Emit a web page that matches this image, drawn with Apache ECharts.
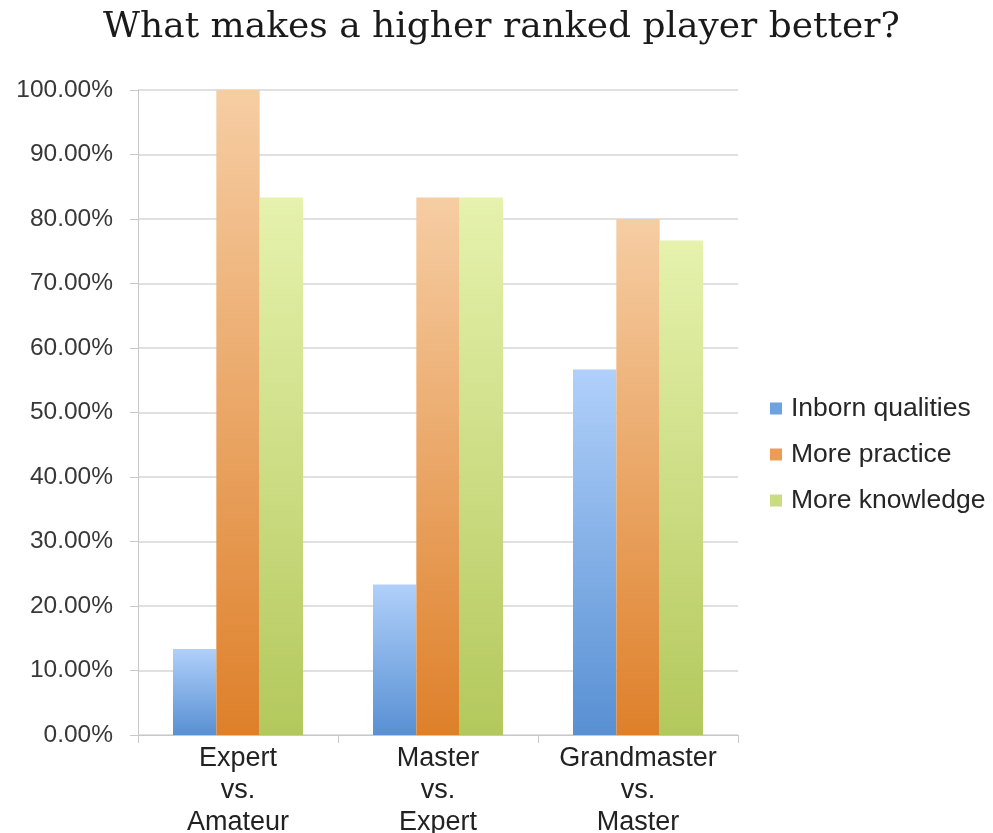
<!DOCTYPE html>
<html>
<head>
<meta charset="utf-8">
<script src="https://cdn.jsdelivr.net/npm/echarts@6/dist/echarts.min.js"></script>
<style>
  html, body { margin: 0; padding: 0; background: #fff; }
  #chart { width: 993px; height: 833px; }
</style>
</head>
<body>
<div id="chart"></div>
<script>
// Survey results: what separates a stronger chess player from a weaker one
const categories = ['Expert\nvs.\nAmateur', 'Master\nvs.\nExpert', 'Grandmaster\nvs.\nMaster'];
const inbornQualities = [13.33, 23.33, 56.67];
const morePractice = [100, 83.33, 80];
const moreKnowledge = [83.33, 83.33, 76.67];
const seriesNames = ['Inborn qualities', 'More practice', 'More knowledge'];

// top / bottom gradient stops and flat legend swatch per series
const palette = [
  { top: '#b0d0fa', bottom: '#5890d3', swatch: '#6ea3e2' },
  { top: '#f6cda3', bottom: '#de802a', swatch: '#eb9c55' },
  { top: '#e6f2ad', bottom: '#b3c85c', swatch: '#c9dc80' }
];

function barSeries(name, data, p) {
  return {
    name: name,
    type: 'bar',
    data: data,
    barGap: '0%',
    barCategoryGap: '35%',
    itemStyle: {
      color: new echarts.graphic.LinearGradient(0, 0, 0, 1, [
        { offset: 0, color: p.top },
        { offset: 1, color: p.bottom }
      ])
    }
  };
}

const chart = echarts.init(document.getElementById('chart'), null, { renderer: 'canvas' });
chart.setOption({
  animation: false,
  backgroundColor: '#ffffff',
  title: {
    text: 'What makes a higher ranked player better?',
    left: 98,
    top: 5,
    textStyle: {
      fontFamily: 'DejaVu Serif',
      fontWeight: 'normal',
      fontSize: 36,
      color: '#1a1a1a'
    }
  },
  legend: {
    orient: 'vertical',
    left: 765,
    top: 390,
    itemWidth: 12,
    itemHeight: 12,
    itemGap: 19,
    icon: 'rect',
    textStyle: {
      fontFamily: 'Liberation Sans',
      fontSize: 26.5,
      lineHeight: 26,
      color: '#262626',
      padding: [0, 0, 0, 4]
    },
    data: seriesNames.map((n, i) => ({ name: n, itemStyle: { color: palette[i].swatch } }))
  },
  grid: { left: 138, right: 255, top: 90, bottom: 98, containLabel: false, outerBoundsMode: 'none' },
  xAxis: {
    type: 'category',
    data: categories,
    axisLine: { lineStyle: { color: '#c8c8c8', width: 1 } },
    axisTick: { show: true, length: 8, lineStyle: { color: '#c8c8c8' } },
    axisLabel: {
      interval: 0,
      hideOverlap: false,
      fontFamily: 'Liberation Sans',
      fontSize: 27,
      lineHeight: 32,
      color: '#222',
      margin: 8
    }
  },
  yAxis: {
    type: 'value',
    min: 0,
    max: 100,
    interval: 10,
    axisLine: { show: true, lineStyle: { color: '#c8c8c8', width: 1 } },
    axisTick: { show: true, length: 8, lineStyle: { color: '#c8c8c8' } },
    splitLine: { lineStyle: { color: '#d6d6d6', width: 1.5 } },
    axisLabel: {
      fontFamily: 'Liberation Sans',
      fontSize: 24.5,
      color: '#383838',
      margin: 25,
      formatter: v => v.toFixed(2) + '%'
    }
  },
  series: [
    barSeries(seriesNames[0], inbornQualities, palette[0]),
    barSeries(seriesNames[1], morePractice, palette[1]),
    barSeries(seriesNames[2], moreKnowledge, palette[2])
  ]
});
</script>
</body>
</html>
